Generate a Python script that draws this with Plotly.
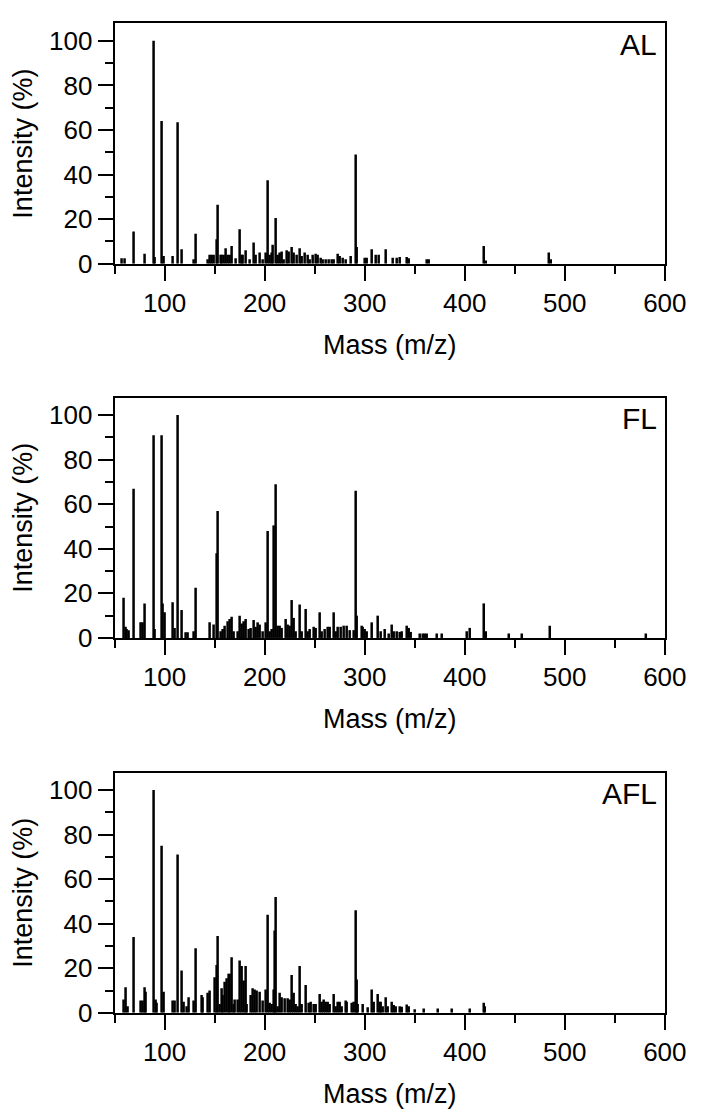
import plotly.graph_objects as go

# ---------------- data (m/z, relative intensity %) ----------------
al_mz = [57, 60, 69, 80, 89, 90, 97, 99, 108, 113, 117, 129, 131, 143, 145, 147, 149,
         152, 153, 156, 157, 159, 161, 163, 165, 167, 171, 175, 177, 178, 181, 185, 189,
         191, 195, 198, 201, 203, 205, 207, 208, 211, 213, 215, 217, 219, 222, 224, 227,
         229, 232, 235, 237, 240, 243, 245, 248, 251, 253, 256, 258, 261, 264, 267, 269,
         273, 275, 278, 281, 286, 291, 292, 300, 302, 307, 311, 314, 321, 328, 332, 335,
         342, 344, 362, 364, 419, 421, 484, 486]
al_int = [2.5, 2.5, 14.5, 4.5, 100, 3, 64, 3.5, 3.5, 63.5, 6.5, 2, 13.5, 2, 4, 4, 4,
          11, 26.5, 4, 4, 4, 7, 4, 4, 8, 2.5, 15.5, 4, 4, 6, 2, 9.5,
          4, 5, 2, 5, 37.5, 4, 5, 8.5, 20.5, 4, 5, 5.5, 2, 6, 5.5, 7.5,
          5, 4, 7, 3.5, 5, 4, 2, 4, 4.5, 4, 2.7, 2, 2, 2, 2, 2,
          4.5, 3.5, 2.7, 2, 3.5, 49, 7.5, 2.7, 2.7, 6.5, 4, 4, 6.5, 2.7, 2.7, 3,
          3, 2.5, 2, 2, 8, 1.5, 5, 2]

fl_mz = [59, 61, 62, 64, 69, 76, 78, 80, 89, 90, 97, 98, 100, 108, 110, 113, 117, 121,
         123, 129, 131, 145, 149, 152, 153, 156, 158, 160, 163, 165, 167, 169, 173, 175,
         177, 179, 181, 184, 186, 189, 191, 193, 195, 198, 201, 203, 205, 207, 209, 211,
         213, 215, 217, 221, 223, 225, 227, 229, 231, 235, 237, 241, 243, 245, 249, 251,
         255, 257, 260, 263, 265, 269, 271, 273, 276, 279, 282, 285, 289, 291, 292, 297,
         298, 300, 302, 307, 313, 316, 320, 324, 327, 329, 332, 335, 337, 342, 344, 346,
         355, 358, 360, 362, 372, 377, 402, 405, 419, 421, 444, 457, 485, 581]
fl_int = [18, 5, 4, 3.5, 67, 7, 7, 15.5, 91, 4, 91, 15.5, 11.5, 16, 4.5, 100, 12.5, 2.5,
          2.5, 3, 22.5, 7, 6, 38, 57, 3, 4, 5.5, 7.5, 8.5, 9.5, 3, 3, 10,
          6.5, 7.5, 8.5, 4, 4.5, 8, 5, 7, 6, 3, 7, 48, 3, 4, 50.5, 69,
          5.5, 5.5, 4.5, 8.5, 6, 5.5, 17, 9, 3, 15, 3, 13, 3, 4, 5, 4.5,
          11.5, 3, 4, 5, 5, 11.5, 3, 5, 5, 5.5, 5.5, 3.5, 3.5, 66, 10, 5.5,
          5, 4, 3, 7, 10, 3, 4, 2, 6, 3, 3, 2.7, 3, 5.5, 4.5, 2.7,
          2, 2, 2, 2, 2, 2, 3, 4.5, 15.5, 3, 2, 2, 5.5, 2]

afl_mz = [59, 61, 63, 69, 76, 78, 80, 81, 89, 91, 92, 97, 99, 108, 110, 113, 117, 119,
          122, 124, 129, 131, 137, 138, 143, 145, 150, 152, 153, 155, 157, 158, 160, 162,
          164, 165, 167, 169, 170, 173, 175, 177, 179, 181, 182, 186, 188, 190, 192, 195,
          198, 201, 203, 205, 207, 209, 210, 211, 213, 215, 217, 220, 223, 225, 227, 229,
          231, 233, 235, 237, 241, 244, 246, 249, 251, 255, 257, 259, 261, 263, 265, 269,
          271, 273, 275, 277, 281, 282, 287, 289, 291, 292, 293, 298, 303, 307, 309, 313,
          315, 316, 318, 321, 323, 327, 329, 331, 335, 337, 342, 344, 350, 359, 373, 387,
          405, 419, 420]
afl_int = [6, 11.5, 3, 34, 5.5, 5.5, 11.5, 9.5, 100, 6, 4.5, 75, 9.5, 5.5, 5.5, 71, 19, 5,
           3, 7, 5.5, 29, 8, 7, 9, 10, 16, 21.5, 34.5, 4, 11, 8, 14, 15.5,
           17.5, 17.5, 25, 4, 6, 6, 23.5, 21, 14.5, 21, 4, 8, 11, 10.5, 10, 9.5,
           5.5, 10.5, 44, 4.5, 4, 10.5, 37, 52, 3, 9, 7, 6.5, 6.5, 6, 17, 9,
           4, 3, 21, 4, 12.5, 4.5, 5, 4, 4, 8.5, 5, 6, 5, 5, 4, 8.5,
           3, 5, 5, 3, 5.5, 5, 4.5, 5, 46, 15, 4, 4, 2.5, 10.5, 5, 8.5,
           5, 5, 3, 7, 3, 5, 3.5, 3, 3, 2.7, 3.8, 3, 1.6, 2, 2, 2,
           2, 4.5, 3]

panel_labels = ["AL", "FL", "AFL"]
x_tick_vals = [100, 200, 300, 400, 500, 600]
x_tick_text = ["100", "200", "300", "400", "500", "600"]
y_tick_vals = [0, 20, 40, 60, 80, 100]
y_tick_text = ["0", "20", "40", "60", "80", "100"]
x_title = "Mass (m/z)"
y_title = "Intensity (%)"

# ---------------- layout geometry ----------------
W, H = 704, 1119
x0_px, x1_px = 110, 678
tops_px = [15.7, 395.0, 775.0]
plot_h = 243.5
y_max = 107.8

FONT = "Liberation Sans, Arial, Helvetica, sans-serif"

fig = go.Figure()
series = [(al_mz, al_int), (fl_mz, fl_int), (afl_mz, afl_int)]

layout = dict(
    width=W, height=H,
    margin=dict(l=0, r=0, t=0, b=0),
    paper_bgcolor="white", plot_bgcolor="white",
    showlegend=False,
    font=dict(family=FONT, size=26, color="black"),
    annotations=[],
)

for i, (mz, inten) in enumerate(series):
    n = "" if i == 0 else str(i + 1)
    fig.add_trace(go.Bar(
        x=mz, y=inten, width=2.5,
        marker=dict(color="black", line=dict(width=0)),
        xaxis="x" + n, yaxis="y" + n,
        hoverinfo="x+y",
    ))
    top = tops_px[i]
    bot = top + plot_h
    ydom = [1 - bot / H, 1 - top / H]
    layout["xaxis" + n] = dict(
        domain=[x0_px / W, x1_px / W], anchor="y" + n,
        range=[50, 600], tickmode="array",
        tickvals=x_tick_vals, ticktext=x_tick_text,
        ticks="outside", ticklen=15, tickwidth=2, tickcolor="black",
        minor=dict(dtick=50, tick0=0, ticks="outside", ticklen=8,
                   tickwidth=2, tickcolor="black", showgrid=False),
        showline=True, linewidth=2, linecolor="black", mirror=True,
        showgrid=False, zeroline=False,
        tickfont=dict(family=FONT, size=26, color="black"),
        title=dict(text=x_title, font=dict(family=FONT, size=27, color="black"),
                   standoff=18),
    )
    layout["yaxis" + n] = dict(
        domain=ydom, anchor="x" + n,
        range=[0, y_max], tickmode="array",
        tickvals=y_tick_vals, ticktext=y_tick_text,
        ticks="outside", ticklen=15, tickwidth=2, tickcolor="black",
        minor=dict(dtick=10, tick0=0, ticks="outside", ticklen=8,
                   tickwidth=2, tickcolor="black", showgrid=False),
        showline=True, linewidth=2, linecolor="black", mirror=True,
        showgrid=False, zeroline=False,
        tickfont=dict(family=FONT, size=26, color="black"),
        title=dict(text=y_title, font=dict(family=FONT, size=27, color="black"),
                   standoff=10),
    )
    layout["annotations"].append(dict(
        text=panel_labels[i], xref="x" + n + " domain", yref="y" + n + " domain",
        x=0.99, y=0.99, xanchor="right", yanchor="top", showarrow=False,
        font=dict(family=FONT, size=30, color="black"),
    ))

fig.update_layout(**layout)
fig.write_html("out.html")
